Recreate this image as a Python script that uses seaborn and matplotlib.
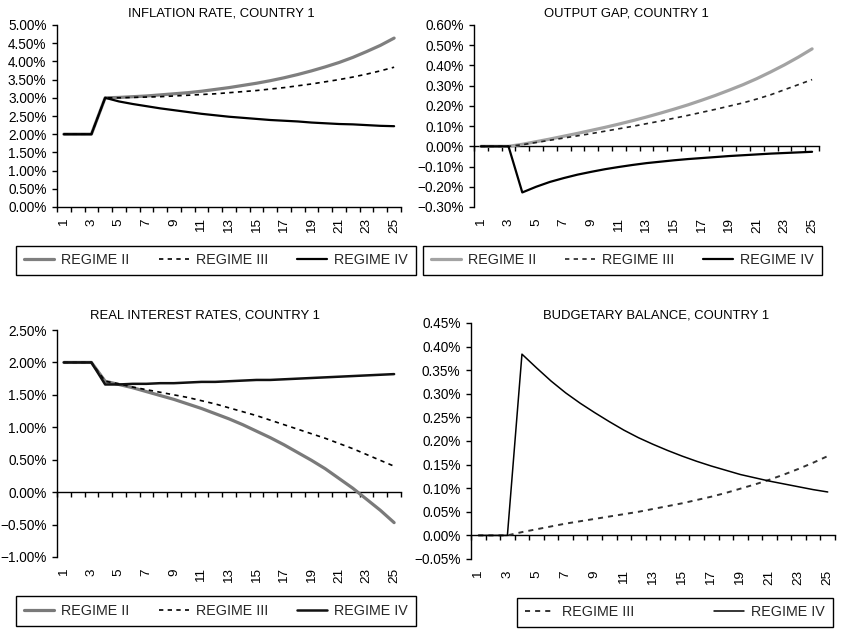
import matplotlib
matplotlib.use("Agg")
import matplotlib.pyplot as plt
import matplotlib.ticker as mticker
import numpy as np
import seaborn as sns

# periodos (categorias do eixo x) e rotulos mostrados
periods = list(range(1, 26))
period_ticks = periods[::2]
period_labels = [str(p) for p in period_ticks]

# valores, em %
infl_r2 = [2.00, 2.00, 2.00, 3.00, 3.01, 3.03, 3.05, 3.08, 3.11, 3.14, 3.18, 3.23, 3.28,
           3.34, 3.40, 3.47, 3.55, 3.64, 3.74, 3.85, 3.97, 4.11, 4.27, 4.44, 4.64]
infl_r3 = [2.00, 2.00, 2.00, 3.00, 3.00, 3.01, 3.02, 3.03, 3.05, 3.07, 3.09, 3.11, 3.14,
           3.17, 3.20, 3.24, 3.28, 3.33, 3.38, 3.44, 3.50, 3.57, 3.65, 3.74, 3.84]
infl_r4 = [2.00, 2.00, 2.00, 3.00, 2.90, 2.83, 2.77, 2.71, 2.66, 2.61, 2.56, 2.52, 2.48,
           2.45, 2.42, 2.39, 2.37, 2.35, 2.32, 2.30, 2.28, 2.27, 2.25, 2.23, 2.22]

gap_r2 = [0, 0, 0, 0.010, 0.023, 0.036, 0.050, 0.064, 0.079, 0.094, 0.110, 0.127, 0.145,
          0.164, 0.184, 0.205, 0.228, 0.252, 0.278, 0.305, 0.335, 0.368, 0.403, 0.441, 0.482]
gap_r3 = [0, 0, 0, 0.008, 0.019, 0.030, 0.041, 0.052, 0.063, 0.075, 0.087, 0.099, 0.112,
          0.125, 0.139, 0.153, 0.168, 0.183, 0.199, 0.215, 0.234, 0.255, 0.280, 0.305, 0.330]
gap_r4 = [0, 0, 0, -0.228, -0.200, -0.176, -0.157, -0.140, -0.126, -0.113, -0.102, -0.092,
          -0.083, -0.076, -0.069, -0.063, -0.058, -0.053, -0.048, -0.044, -0.040, -0.036,
          -0.033, -0.030, -0.027]

rir_r2 = [2.00, 2.00, 2.00, 1.71, 1.66, 1.61, 1.55, 1.49, 1.43, 1.36, 1.29, 1.21, 1.13,
          1.04, 0.94, 0.84, 0.73, 0.61, 0.49, 0.36, 0.21, 0.06, -0.11, -0.28, -0.47]
rir_r3 = [2.00, 2.00, 2.00, 1.71, 1.67, 1.62, 1.58, 1.54, 1.50, 1.46, 1.41, 1.36, 1.30,
          1.24, 1.18, 1.11, 1.04, 0.97, 0.90, 0.83, 0.75, 0.67, 0.58, 0.49, 0.40]
rir_r4 = [2.00, 2.00, 2.00, 1.66, 1.66, 1.67, 1.67, 1.68, 1.68, 1.69, 1.70, 1.70, 1.71,
          1.72, 1.73, 1.73, 1.74, 1.75, 1.76, 1.77, 1.78, 1.79, 1.80, 1.81, 1.82]

bud_r3 = [0, 0, 0, 0.007, 0.013, 0.019, 0.025, 0.030, 0.035, 0.040, 0.045, 0.050, 0.056,
          0.062, 0.068, 0.075, 0.082, 0.090, 0.099, 0.108, 0.118, 0.129, 0.141, 0.154, 0.168]
bud_r4 = [0, 0, 0, 0.384, 0.355, 0.327, 0.302, 0.280, 0.260, 0.241, 0.223, 0.207, 0.193,
          0.180, 0.168, 0.157, 0.147, 0.138, 0.129, 0.122, 0.115, 0.109, 0.103, 0.097, 0.092]

sns.set_theme(style="ticks")
plt.rcParams['font.family'] = ['Liberation Sans', 'DejaVu Sans']

W, H = 841, 630
fig = plt.figure(figsize=(W / 100, H / 100), dpi=100)
fig.patch.set_facecolor("white")

DASH = (0, (2.6, 2.6))


def box(l, t, r, b):
    # pixels (a partir do topo) -> fracao da figura
    return [l / W, 1 - b / H, (r - l) / W, (b - t) / H]


def pct(v, pos):
    v = round(v, 6)
    if v == 0:
        v = 0.0
    return f"{v:.2f}%".replace("-", "\u2212")


def draw_panel(rect, title, title_xy, series, ylim, ystep, leg_rect):
    ax = fig.add_axes(box(*rect))
    for label, vals, color, lw, ls in series:
        sns.lineplot(x=periods, y=vals, color=color, linewidth=lw, linestyle=ls,
                     label=label, ax=ax)

    ax.set_xlim(0.5, 25.5)
    ax.set_ylim(*ylim)
    ax.set_yticks(np.arange(ylim[0], ylim[1] + ystep / 2, ystep))
    ax.yaxis.set_major_formatter(mticker.FuncFormatter(pct))
    ax.set_xticks(period_ticks, period_labels)
    ax.set_xlabel('')
    ax.set_ylabel('')

    for s in ['top', 'right', 'bottom']:
        ax.spines[s].set_visible(False)
    ax.spines['left'].set_color('black')
    ax.spines['left'].set_linewidth(1.0)
    ax.tick_params(axis='y', direction='out', length=3.5, width=1, pad=4,
                   labelsize=9.8, colors='black')
    ax.tick_params(axis='x', length=0, pad=8, labelrotation=90, labelsize=9.7,
                   colors='black')

    # eixo das categorias cruzando no zero, com marcas entre categorias
    frac = (0 - ylim[0]) / (ylim[1] - ylim[0])
    sec = ax.secondary_xaxis(frac)
    sec.set_xticks(np.arange(0.5, 26, 1))
    sec.xaxis.set_major_formatter(mticker.NullFormatter())
    sec.tick_params(direction='out', length=3.5, width=1, colors='black')
    for s in sec.spines.values():
        s.set_color('black')
        s.set_linewidth(1.0)

    fig.text(title_xy[0] / W, 1 - title_xy[1] / H, title, ha='center', va='center',
             fontsize=9.4, color='black')

    handles, labels = ax.get_legend_handles_labels()
    leg = ax.legend(handles, labels, loc='center', bbox_to_anchor=box(*leg_rect),
                    bbox_transform=fig.transFigure, mode='expand', ncol=len(handles),
                    frameon=True, fancybox=False, edgecolor='black', framealpha=1,
                    borderaxespad=0, fontsize=10.3, handlelength=2.1,
                    handletextpad=0.5, borderpad=0.55)
    leg.get_frame().set_linewidth(1.0)
    return ax


draw_panel((57, 25, 401, 207), 'INFLATION RATE, COUNTRY 1', (221, 13),
           [('REGIME II', infl_r2, '#7f7f7f', 2.3, '-'),
            ('REGIME III', infl_r3, 'black', 1.2, DASH),
            ('REGIME IV', infl_r4, 'black', 1.6, '-')],
           (0, 5), 0.5, (16, 244, 416, 277))

draw_panel((474, 25, 819, 207), 'OUTPUT GAP, COUNTRY 1', (626, 13),
           [('REGIME II', gap_r2, '#a3a3a3', 2.3, '-'),
            ('REGIME III', gap_r3, '#222222', 1.2, DASH),
            ('REGIME IV', gap_r4, 'black', 1.6, '-')],
           (-0.3, 0.6), 0.1, (423, 244, 822, 277))

draw_panel((57, 330, 401, 557), 'REAL INTEREST RATES, COUNTRY 1', (205, 315),
           [('REGIME II', rir_r2, '#7a7a7a', 2.3, '-'),
            ('REGIME III', rir_r3, 'black', 1.2, DASH),
            ('REGIME IV', rir_r4, '#111111', 1.8, '-')],
           (-1, 2.5), 0.5, (16, 594, 416, 628))

draw_panel((471, 323, 835, 559), 'BUDGETARY BALANCE, COUNTRY 1', (656, 316),
           [('REGIME III', bud_r3, '#333333', 1.4, DASH),
            ('REGIME IV', bud_r4, 'black', 1.1, '-')],
           (-0.05, 0.45), 0.05, (517, 596, 833, 629))

fig.savefig('out.png', dpi=100, facecolor='white')
